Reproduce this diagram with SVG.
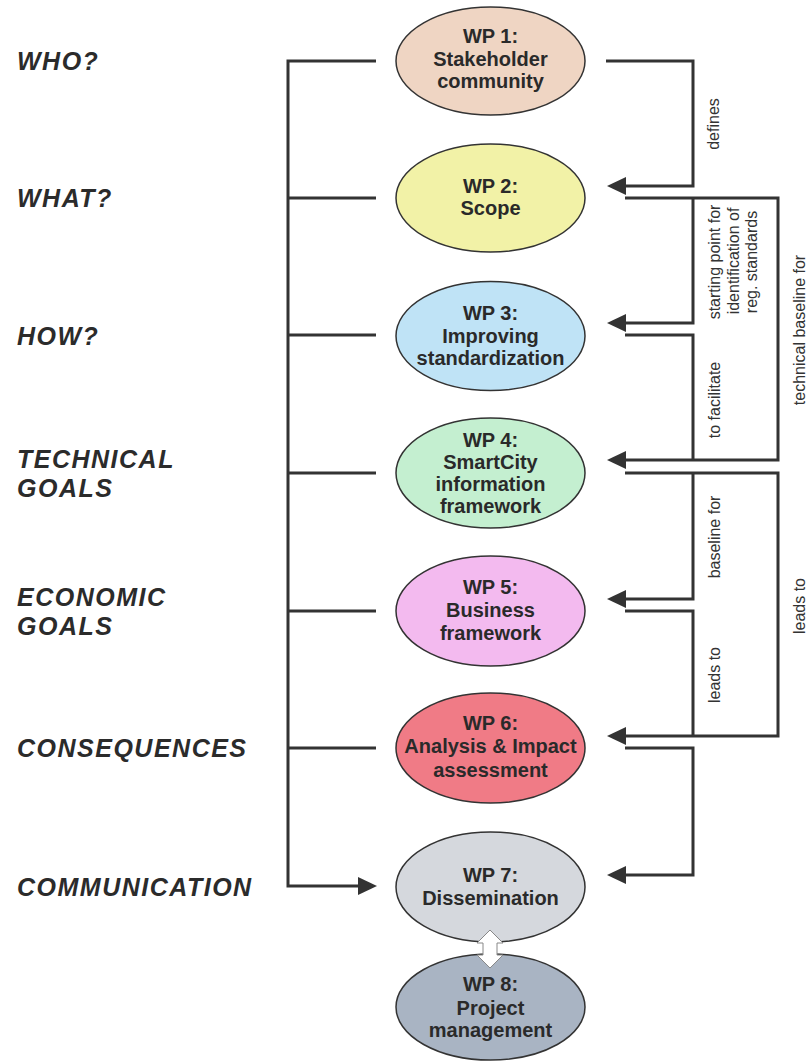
<svg xmlns="http://www.w3.org/2000/svg" width="812" height="1062" viewBox="0 0 812 1062">
<defs>
<style>
.side{font-family:"Liberation Sans",Arial,sans-serif;font-weight:bold;font-style:italic;font-size:25px;letter-spacing:1.5px;fill:#2b2b2b}
.nt{font-family:"Liberation Sans",Arial,sans-serif;font-weight:bold;font-size:20px;fill:#2a2a2a;text-anchor:middle}
.lbl{font-family:"Liberation Sans",Arial,sans-serif;font-size:16px;fill:#333;text-anchor:middle}
.el{stroke:#333;stroke-width:1.5}
.cn{fill:none;stroke:#333;stroke-width:3;stroke-linejoin:miter;stroke-linecap:butt}
</style>
<marker id="ah" markerUnits="userSpaceOnUse" markerWidth="19" markerHeight="18" refX="7" refY="9" orient="auto">
<path d="M0,0 L19,9 L0,18 z" fill="#333"/>
</marker>
</defs>
<rect width="812" height="1062" fill="#fff"/>

<g id="side-labels">
<text class="side" x="17" y="70">WHO?</text>
<text class="side" x="17" y="207">WHAT?</text>
<text class="side" x="17" y="345">HOW?</text>
<text class="side" x="17" y="468">TECHNICAL</text>
<text class="side" x="17" y="497">GOALS</text>
<text class="side" x="17" y="606">ECONOMIC</text>
<text class="side" x="17" y="635">GOALS</text>
<text class="side" x="17" y="757">CONSEQUENCES</text>
<text class="side" x="17" y="896">COMMUNICATION</text>
</g>

<g id="connectors">
<path class="cn" d="M376,61 H288 V886 H365" marker-end="url(#ah)"/>
<path class="cn" d="M288,198 H376 M288,335 H376 M288,473 H376 M288,611 H376 M288,748 H376"/>
<path class="cn" d="M606,61 H693 V186 H619" marker-end="url(#ah)"/>
<path class="cn" d="M625,198 H778 V460 H619" marker-end="url(#ah)"/>
<path class="cn" d="M693,198 V323 H619" marker-end="url(#ah)"/>
<path class="cn" d="M625,335 H693 V460"/>
<path class="cn" d="M625,473 H778 V736 H619" marker-end="url(#ah)"/>
<path class="cn" d="M693,473 V599 H619" marker-end="url(#ah)"/>
<path class="cn" d="M625,611 H693 V736"/>
<path class="cn" d="M625,748 H693 V875 H619" marker-end="url(#ah)"/>
<text class="lbl" transform="translate(719,124) rotate(-90)">defines</text>
<text class="lbl" transform="translate(720,262) rotate(-90)">starting point for</text>
<text class="lbl" transform="translate(738.5,261) rotate(-90)">identification of</text>
<text class="lbl" transform="translate(757,262) rotate(-90)">reg. standards</text>
<text class="lbl" transform="translate(805,330) rotate(-90)">technical baseline for</text>
<text class="lbl" transform="translate(720,400) rotate(-90)">to facilitate</text>
<text class="lbl" transform="translate(720,537) rotate(-90)">baseline for</text>
<text class="lbl" transform="translate(720,675) rotate(-90)">leads to</text>
<text class="lbl" transform="translate(805,606) rotate(-90)">leads to</text>
</g>

<g id="wp1">
<ellipse class="el" cx="490.5" cy="61" rx="94.5" ry="54" fill="#efd5c3"/>
<text class="nt" x="490.5" y="43">WP 1:</text>
<text class="nt" x="490.5" y="66">Stakeholder</text>
<text class="nt" x="490.5" y="88">community</text>
</g>
<g id="wp2">
<ellipse class="el" cx="490.5" cy="198" rx="94.5" ry="54" fill="#f2f2a7"/>
<text class="nt" x="490.5" y="193">WP 2:</text>
<text class="nt" x="490.5" y="215">Scope</text>
</g>
<g id="wp3">
<ellipse class="el" cx="490.5" cy="336" rx="94.5" ry="54.5" fill="#bfe3f6"/>
<text class="nt" x="490.5" y="320">WP 3:</text>
<text class="nt" x="490.5" y="343">Improving</text>
<text class="nt" x="490.5" y="365">standardization</text>
</g>
<g id="wp4">
<ellipse class="el" cx="490.5" cy="473" rx="94.5" ry="55" fill="#c4efd0"/>
<text class="nt" x="490.5" y="447">WP 4:</text>
<text class="nt" x="490.5" y="469">SmartCity</text>
<text class="nt" x="490.5" y="491">information</text>
<text class="nt" x="490.5" y="513">framework</text>
</g>
<g id="wp5">
<ellipse class="el" cx="490.5" cy="611" rx="94.5" ry="55" fill="#f3baef"/>
<text class="nt" x="490.5" y="594">WP 5:</text>
<text class="nt" x="490.5" y="617">Business</text>
<text class="nt" x="490.5" y="640">framework</text>
</g>
<g id="wp6">
<ellipse class="el" cx="490.5" cy="748" rx="94.5" ry="55" fill="#f07b86"/>
<text class="nt" x="490.5" y="730">WP 6:</text>
<text class="nt" x="490.5" y="753">Analysis &amp; Impact</text>
<text class="nt" x="490.5" y="777">assessment</text>
</g>
<g id="wp7">
<ellipse class="el" cx="490.5" cy="887" rx="94.5" ry="55" fill="#d5d8dd"/>
<text class="nt" x="490.5" y="882">WP 7:</text>
<text class="nt" x="490.5" y="905">Dissemination</text>
</g>
<g id="wp8">
<ellipse class="el" cx="490.5" cy="1007" rx="94.5" ry="53" fill="#a9b4c3"/>
<text class="nt" x="490.5" y="991">WP 8:</text>
<text class="nt" x="490.5" y="1015">Project</text>
<text class="nt" x="490.5" y="1037">management</text>
</g>

<g id="link-wp7-wp8">
<path d="M490,930 L503,943 L497,943 L497,955 L503,955 L490,968 L477,955 L483,955 L483,943 L477,943 z" fill="#fff" stroke="#888" stroke-width="1"/>
</g>
</svg>
